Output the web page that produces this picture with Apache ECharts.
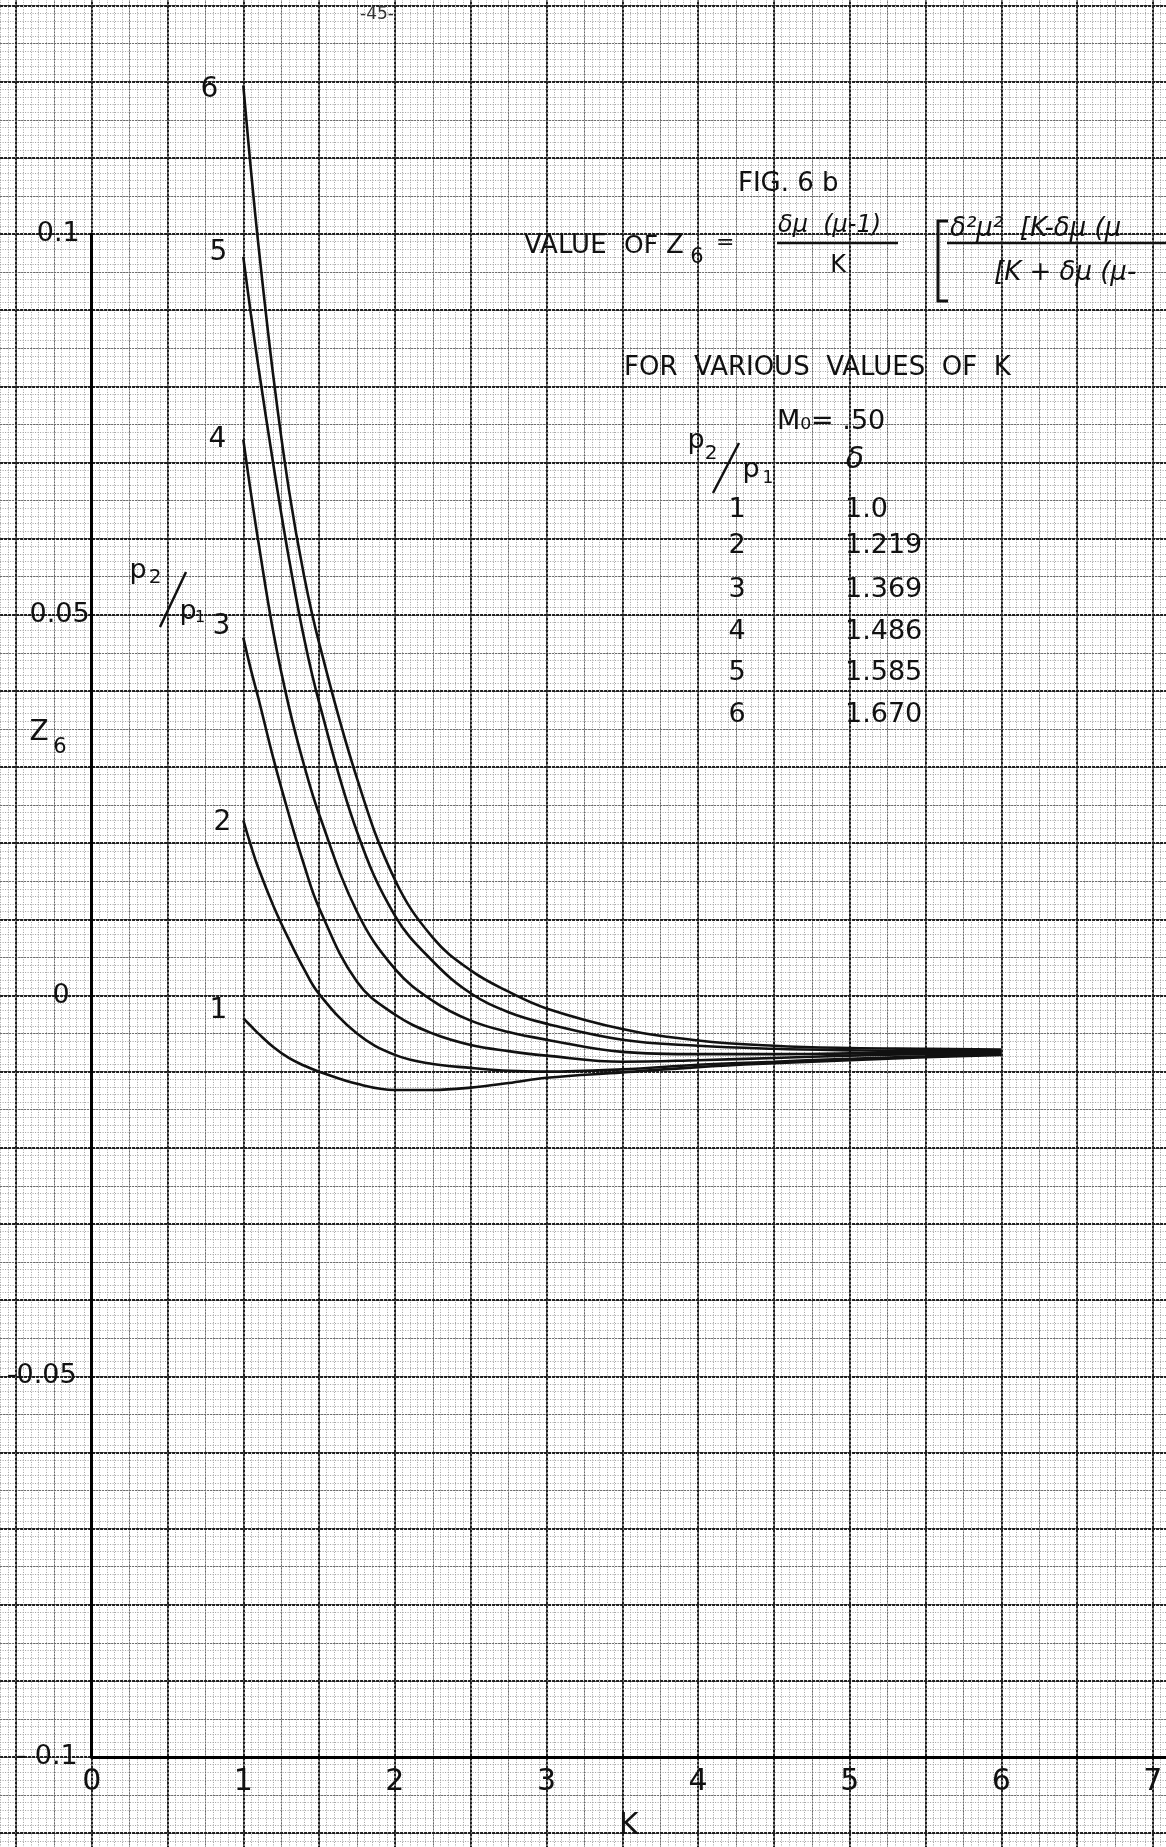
<!DOCTYPE html>
<html>
<head>
<meta charset="utf-8">
<script src="https://cdn.jsdelivr.net/npm/echarts@6/dist/echarts.min.js"></script>
<style>
html,body{margin:0;padding:0;background:#ffffff;}
#chart{width:1166px;height:1847px;}
</style>
</head>
<body>
<div id="chart"></div>
<script>
// ---------- data ----------
const kValues = [1.0, 1.05, 1.1, 1.2, 1.3, 1.4, 1.5, 1.75, 2.0, 2.25, 2.5, 2.75, 3.0, 3.5, 4.0, 4.5, 5.0, 5.5, 6.0];
const z6Ratio1 = [-0.003, -0.0040, -0.0050, -0.0068, -0.0082, -0.0092, -0.0100, -0.0116, -0.0124, -0.0124, -0.0121, -0.0115, -0.0108, -0.0101, -0.0094, -0.0089, -0.0085, -0.0081, -0.0078];
const z6Ratio2 = [0.023, 0.0197, 0.0167, 0.0117, 0.0074, 0.0035, 0.0002, -0.0050, -0.0078, -0.0090, -0.0095, -0.0099, -0.0100, -0.0097, -0.0091, -0.0087, -0.0083, -0.0080, -0.0077];
const z6Ratio3 = [0.047, 0.0428, 0.0390, 0.0310, 0.0238, 0.0172, 0.0115, 0.0018, -0.0025, -0.0050, -0.0065, -0.0073, -0.0079, -0.0087, -0.0085, -0.0082, -0.0079, -0.0077, -0.0076];
const z6Ratio4 = [0.073, 0.0660, 0.0595, 0.0475, 0.0380, 0.0303, 0.0238, 0.0110, 0.0035, -0.0007, -0.0033, -0.0048, -0.0058, -0.0074, -0.0077, -0.0077, -0.0076, -0.0075, -0.0075];
const z6Ratio5 = [0.097, 0.0895, 0.0825, 0.0695, 0.0575, 0.0470, 0.0385, 0.0215, 0.0105, 0.0045, 0.0003, -0.0022, -0.0037, -0.0058, -0.0066, -0.0070, -0.0072, -0.0073, -0.0073];
const z6Ratio6 = [0.1195, 0.1085, 0.0985, 0.0810, 0.0665, 0.0552, 0.0463, 0.0285, 0.0152, 0.0076, 0.0033, 0.0005, -0.0017, -0.0044, -0.0059, -0.0066, -0.0069, -0.0070, -0.0071];
const curveNames = ['1', '2', '3', '4', '5', '6'];
const xTickLabels = ['0', '1', '2', '3', '4', '5', '6', '7'];
const yTickLabels = ['- 0.1', '-0.05', '0', '0.05', '0.1'];
const tableRatio = ['1', '2', '3', '4', '5', '6'];
const tableDelta = ['1.0', '1.219', '1.369', '1.486', '1.585', '1.670'];

// ---------- styles ----------
const FONT = 'DejaVu Sans, Liberation Sans, sans-serif';
const INK = '#111111';
const curveSeries = [z6Ratio1, z6Ratio2, z6Ratio3, z6Ratio4, z6Ratio5, z6Ratio6];
const labelOffsets = [[-25, -8], [-21, 2], [-22, -11], [-26, 0], [-25, -4], [-34, 4]];

const fineLine = {show: true, lineStyle: {color: '#a0a0a0', width: 1, type: [1, 1.5]}};
const midLine = {show: true, lineStyle: {color: '#6a6a6a', width: 1, type: [2, 1]}};
const heavyLine = {show: true, lineStyle: {color: '#1e1e1e', width: 2, type: [3, 1]}};

function paperAxis(min, max, interval, split, z) {
  return {
    gridIndex: 0, type: 'value', min: min, max: max, interval: interval, z: z,
    axisLine: {show: false}, axisTick: {show: false}, axisLabel: {show: false},
    splitLine: split
  };
}

function txt(x, y, text, size, extra) {
  return {
    type: 'text', x: x, y: y, z: 50,
    style: Object.assign({text: text, fontSize: size, fontFamily: FONT, fill: INK,
      align: 'left', verticalAlign: 'middle'}, extra || {})
  };
}
function seg(x1, y1, x2, y2, w) {
  return {type: 'line', z: 50, shape: {x1: x1, y1: y1, x2: x2, y2: y2},
    style: {stroke: INK, lineWidth: w || 2.5}};
}

const graphics = [
  txt(377, 15, '-45-', 17, {align: 'center', fill: '#333'}),
  txt(738, 184, 'FIG. 6 b', 26),
  txt(524, 246, 'VALUE', 26),
  txt(624, 246, 'OF', 25),
  txt(666, 246, 'Z', 26),
  txt(697, 258, '6', 21, {align: 'center'}),
  txt(716, 243, '=', 22),
  txt(778, 226, 'δμ  (μ-1)', 24, {fontStyle: 'italic'}),
  seg(777, 243, 898, 243, 2.5),
  txt(838, 266, 'K', 24, {align: 'center'}),
  {type: 'polyline', z: 50, shape: {points: [[948, 221], [938, 221], [938, 301], [948, 301]]},
    style: {stroke: INK, lineWidth: 3, fill: null}},
  txt(950, 229, 'δ²μ²  [K-δμ (μ', 26, {fontStyle: 'italic'}),
  seg(947, 243, 1166, 243, 2.5),
  txt(994, 273, '[K + δμ (μ-', 26, {fontStyle: 'italic'}),
  txt(624, 368, 'FOR  VARIOUS  VALUES  OF  K', 26),
  txt(777, 422, 'M₀= .50', 27),
  txt(696, 441, 'p', 27, {align: 'center'}),
  txt(711, 454, '2', 20, {align: 'center'}),
  seg(739, 443, 713, 493, 2.5),
  txt(751, 470, 'p', 27, {align: 'center'}),
  txt(768, 479, '1', 17, {align: 'center'}),
  txt(855, 460, 'δ', 30, {align: 'center', fontStyle: 'italic'}),
  // z6 axis title
  txt(39, 733, 'Z', 28, {align: 'center'}),
  txt(60, 748, '6', 21, {align: 'center'}),
  // p2/p1 next to curves
  txt(138, 571, 'p', 27, {align: 'center'}),
  txt(155, 578, '2', 20, {align: 'center'}),
  seg(186, 572, 160, 627, 2.5),
  txt(188, 612, 'p', 27, {align: 'center'}),
  txt(200, 618, '1', 16, {align: 'center'})
];
const rowY = [510, 546, 590, 632, 673, 715];
tableRatio.forEach(function (r, i) {
  graphics.push(txt(737, rowY[i], r, 27, {align: 'center'}));
  graphics.push(txt(845, rowY[i], tableDelta[i], 27));
});

// ---------- series ----------
const series = curveSeries.map(function (vals, idx) {
  return {
    type: 'line', xAxisIndex: 3, yAxisIndex: 3, z: 10,
    name: curveNames[idx],
    clip: false,
    data: kValues.map(function (k, i) {
      if (i === 0) {
        return {
          value: [k, vals[i]], symbol: 'circle', symbolSize: 1,
          itemStyle: {color: 'rgba(0,0,0,0)'},
          label: {show: true, position: 'inside', offset: labelOffsets[idx], formatter: curveNames[idx],
            fontSize: 28, fontFamily: FONT, color: INK}
        };
      }
      return [k, vals[i]];
    }),
    smooth: 0.4, symbol: 'none', showSymbol: true, showAllSymbol: true,
    lineStyle: {color: INK, width: 2.6},
    emphasis: {disabled: true}
  };
});

const yRich = {};
// index: 0->-0.1, 1->-0.05, 2->0, 3->0.05, 4->0.1
const yPads = [12, 13, 20, 0, 10];
yPads.forEach(function (p, i) {
  yRich['s' + i] = {fontSize: 27, fontFamily: FONT, color: INK, padding: [0, p, 0, 0]};
});

const X_MAX = 1074.3 / 151.6;

const option = {
  backgroundColor: '#ffffff',
  animation: false,
  grid: [
    {left: -59.9, top: -70.6, width: 1288.6, height: 1979.9, containLabel: false, outerBoundsMode: 'none', show: false},
    {left: 91.7, top: 234, width: 1074.3, height: 1523, containLabel: false, outerBoundsMode: 'none', show: false}
  ],
  xAxis: [
    paperAxis(-1, 7.5, 0.05, fineLine, 1),
    paperAxis(-1, 7.5, 0.25, midLine, 2),
    paperAxis(-1, 7.5, 0.5, heavyLine, 3),
    {
      gridIndex: 1, type: 'value', min: 0, max: X_MAX, interval: 1, z: 6,
      axisLine: {show: true, onZero: false, lineStyle: {color: '#000', width: 3}},
      axisTick: {show: false}, splitLine: {show: false},
      axisLabel: {show: true, margin: 10, fontSize: 30, fontFamily: FONT, color: INK, showMaxLabel: false,
        formatter: function (v) { return Number.isInteger(v) ? xTickLabels[v] : ''; }},
      name: 'K', nameLocation: 'middle', nameGap: 54,
      nameTextStyle: {fontSize: 30, fontFamily: FONT, color: INK}
    }
  ],
  yAxis: [
    paperAxis(-0.12, 0.14, 0.001, fineLine, 1),
    paperAxis(-0.12, 0.14, 0.005, midLine, 2),
    paperAxis(-0.12, 0.14, 0.01, heavyLine, 3),
    {
      gridIndex: 1, type: 'value', min: -0.1, max: 0.1, interval: 0.05, z: 6,
      axisLine: {show: true, onZero: false, lineStyle: {color: '#000', width: 3}},
      axisTick: {show: false}, splitLine: {show: false},
      axisLabel: {show: true, margin: 2, align: 'right',
        formatter: function (v) { const i = Math.round(v / 0.05) + 2; return '{s' + i + '|' + yTickLabels[i] + '}'; },
        rich: yRich}
    }
  ],
  graphic: graphics,
  series: series
};

const chart = echarts.init(document.getElementById('chart'), null, {renderer: 'canvas', width: 1166, height: 1847});
chart.setOption(option);
</script>
</body>
</html>
